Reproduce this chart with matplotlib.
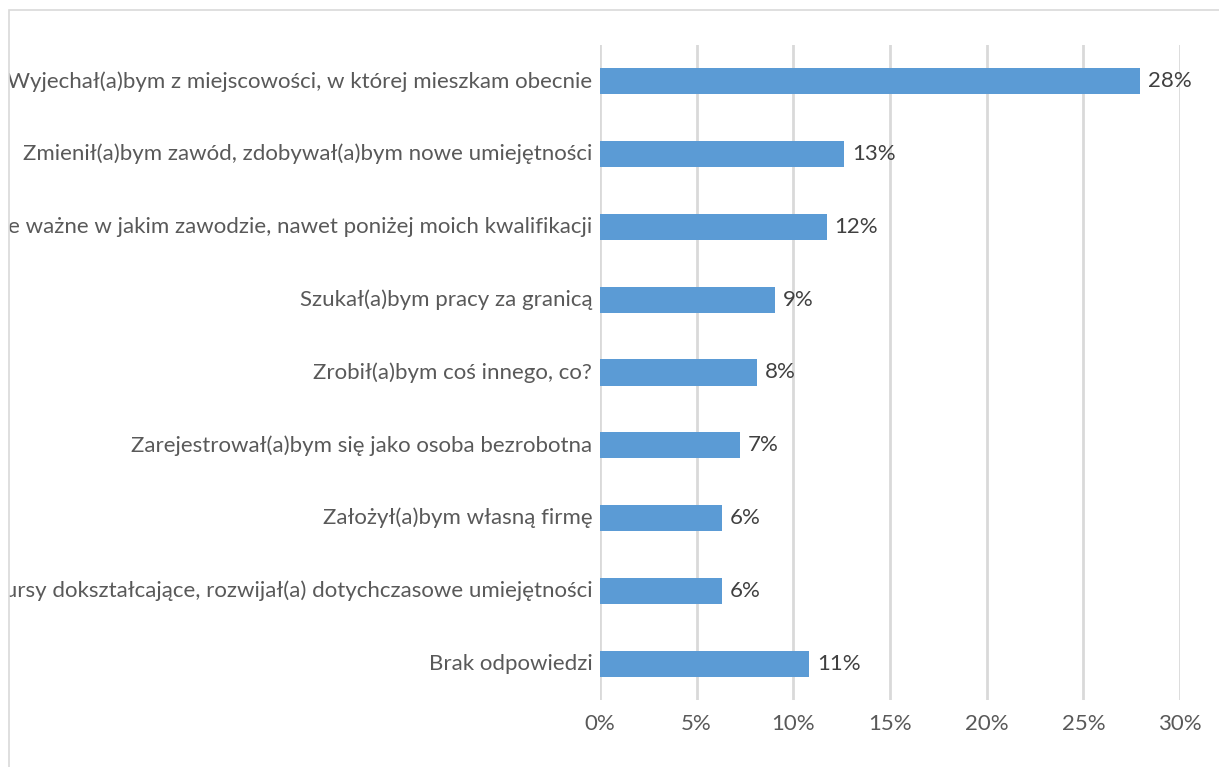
import matplotlib
matplotlib.use("Agg")
import matplotlib.pyplot as plt
from matplotlib.transforms import Bbox, TransformedBbox
from matplotlib.patches import Rectangle

# odpowiedzi (od góry do dołu) i udział procentowy
categories = [
    "Wyjechał(a)bym z miejscowości, w której mieszkam obecnie",
    "Zmienił(a)bym zawód, zdobywał(a)bym nowe umiejętności",
    "Podjął(a)bym każdą pracę, nie ważne w jakim zawodzie, nawet poniżej moich kwalifikacji",
    "Szukał(a)bym pracy za granicą",
    "Zrobił(a)bym coś innego, co?",
    "Zarejestrował(a)bym się jako osoba bezrobotna",
    "Założył(a)bym własną firmę",
    "Poszedł(a)bym na kursy dokształcające, rozwijał(a) dotychczasowe umiejętności",
    "Brak odpowiedzi",
]
values = [27.93, 12.62, 11.73, 9.05, 8.12, 7.24, 6.31, 6.31, 10.81]
xticks = [0, 5, 10, 15, 20, 25, 30]

plt.rcParams['font.family'] = ['Lato', 'DejaVu Sans']

W, H = 1219, 767
fig = plt.figure(figsize=(W / 100, H / 100), dpi=100)
ax = fig.add_axes([600 / W, 1 - 700 / H, 580 / W, 655 / H])

bar_color = '#5B9BD5'
grid_color = '#D9D9D9'
text_color = '#595959'
fs = 16

y = list(range(len(categories)))
ax.barh(y, values, height=0.36, color=bar_color, zorder=3)
for yi, v in zip(y, values):
    ax.text(v + 0.4, yi, f"{v:.0f}%", va='center', ha='left',
            fontsize=fs, color='#404040', zorder=4)

ax.set_xlim(0, 30)
ax.set_ylim(len(categories) - 0.5, -0.5)
ax.set_xticks(xticks)
ax.set_xticklabels([f"{t}%" for t in xticks])
ax.tick_params(axis='x', length=0, pad=10, labelsize=fs, labelcolor=text_color)
ax.set_yticks([])
ax.grid(axis='x', color=grid_color, linewidth=2, zorder=0)
for s in ax.spines.values():
    s.set_visible(False)

# etykiety kategorii, przycięte do ramki wykresu
clip = TransformedBbox(Bbox([[9 / W, 0], [1, 1]]), fig.transFigure)
for yi, label in zip(y, categories):
    t = ax.text(-0.4, yi, label, ha='right', va='center', fontsize=fs,
                color=text_color)
    t.set_clip_on(True)
    t.set_clip_box(clip)

# ramka obszaru wykresu
fig.patches.append(Rectangle((9 / W, -0.1), 1.2, 1 - 10 / H + 0.1,
                             transform=fig.transFigure, fill=False,
                             edgecolor=grid_color, linewidth=1.2))

fig.savefig("out.png", dpi=100)
